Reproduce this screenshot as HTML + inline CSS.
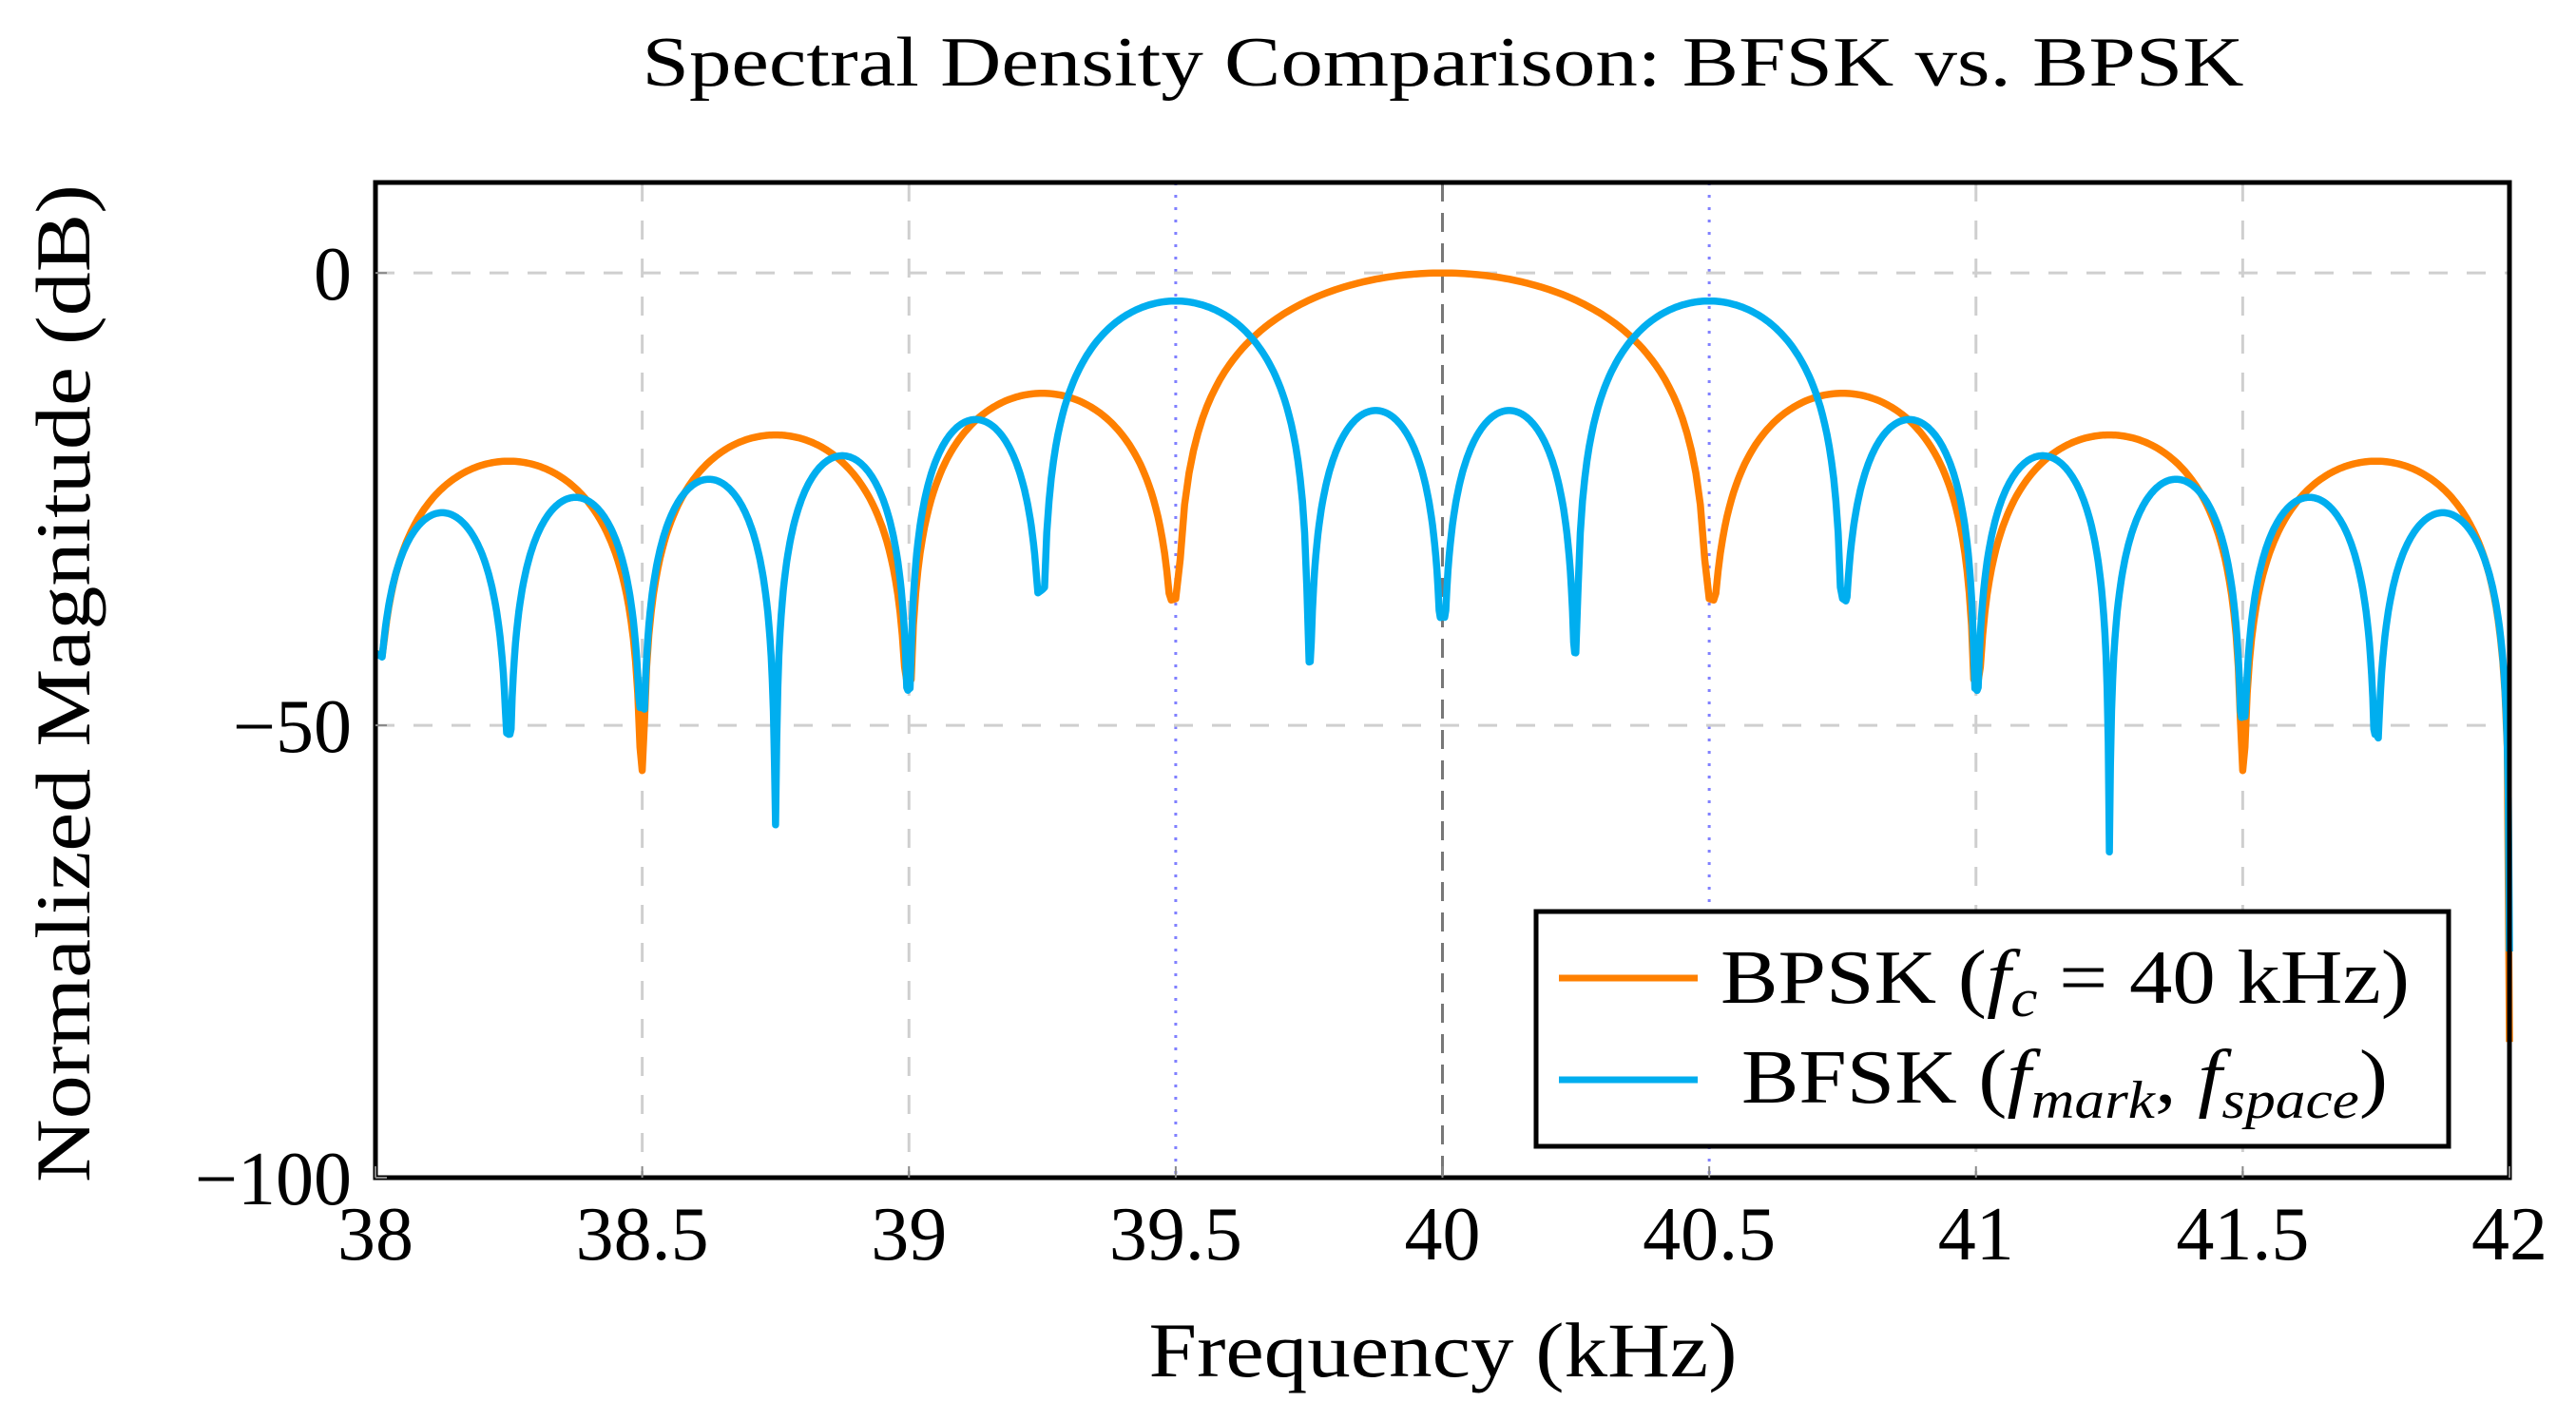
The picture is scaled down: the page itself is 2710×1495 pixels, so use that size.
<!DOCTYPE html>
<html><head><meta charset="utf-8"><style>
html,body{margin:0;padding:0;background:#fff;}
svg{display:block;font-family:"Liberation Serif",serif;}
</style></head><body>
<svg id="chart" width="2710" height="1495" viewBox="0 0 2710 1495" xmlns="http://www.w3.org/2000/svg">
<text x="1518" y="90" font-size="74" text-anchor="middle" textLength="1685" lengthAdjust="spacingAndGlyphs">Spectral Density Comparison: BFSK vs. BPSK</text>
<g id="grid"></g>
<g id="series"></g>
<rect x="395" y="192" width="2245" height="1047" fill="none" stroke="#000" stroke-width="5"/>
<g id="ticks"></g>
<text x="1518" y="1448" font-size="82" text-anchor="middle" textLength="619" lengthAdjust="spacingAndGlyphs">Frequency (kHz)</text>
<text transform="translate(94,719) rotate(-90)" font-size="82" text-anchor="middle" textLength="1050" lengthAdjust="spacingAndGlyphs">Normalized Magnitude (dB)</text>
<g>
<rect x="1616" y="959" width="960" height="247" fill="#fff" stroke="#000" stroke-width="5"/>
<line x1="1640" y1="1029" x2="1786" y2="1029" stroke="#ff8000" stroke-width="7"/>
<text x="1810" y="1055" font-size="80" textLength="725" lengthAdjust="spacingAndGlyphs">BPSK (<tspan font-style="italic">f</tspan><tspan font-style="italic" font-size="56" dy="14">c</tspan><tspan dy="-14"> = 40 kHz)</tspan></text>
<line x1="1640" y1="1136" x2="1786" y2="1136" stroke="#00aeef" stroke-width="7"/>
<text x="1832" y="1160" font-size="80" textLength="680" lengthAdjust="spacingAndGlyphs">BFSK (<tspan font-style="italic">f</tspan><tspan font-style="italic" font-size="56" dy="16">mark</tspan><tspan dy="-16">, </tspan><tspan font-style="italic">f</tspan><tspan font-style="italic" font-size="56" dy="16">space</tspan><tspan dy="-16">)</tspan></text>
</g>
</svg>
<script>
// ---- data ----
const xTicks = [38, 38.5, 39, 39.5, 40, 40.5, 41, 41.5, 42];
const xTickLabels = ["38", "38.5", "39", "39.5", "40", "40.5", "41", "41.5", "42"];
const yTicks = [0, -50, -100];
const yTickLabels = ["0", "\u221250", "\u2212100"];
const bpskNullFreq = [38, 38.5, 39, 39.5, 40.5, 41, 41.5, 42];
const bpskNullDb = [-42, -55, -45, -36, -36, -45, -55, -85];
const bpskPeakDb = [-20.8, -17.9, -13.3, 0, -13.3, -17.9, -20.8];
const bfskNullFreq = [38, 38.25, 38.5, 38.75, 39, 39.25, 39.75, 40, 40.25, 40.75, 41, 41.25, 41.5, 41.75, 42];
const bfskNullDb = [-42, -51, -48, -61, -46, -35, -43, -38, -42, -36, -46, -64, -49, -51, -75];
const bfskPeakDb = [-26.5, -24.8, -22.8, -20.2, -16.2, -3.1, -15.2, -15.2, -3.1, -16.2, -20.2, -22.8, -24.8, -26.5];

const X0 = 395, X1 = 2640, Y0 = 1239, Y1 = 192;
const xMin = 38, xMax = 42, yMin = -100, yMax = 10;
function xs(v){ return X0 + (v - xMin) / (xMax - xMin) * (X1 - X0); }
function ys(v){ return Y0 - (v - yMin) / (yMax - yMin) * (Y0 - Y1); }
const NS = "http://www.w3.org/2000/svg";
function mk(tag, attrs, parent){
  const e = document.createElementNS(NS, tag);
  for (const k in attrs) e.setAttribute(k, attrs[k]);
  parent.appendChild(e); return e;
}
const grid = document.getElementById('grid');
const ticks = document.getElementById('ticks');
xTicks.forEach((t, i) => {
  let stroke = "#cfcfcf", dash = "20,20", w = 3;
  if (t === 40) { stroke = "#777"; dash = "20,12"; w = 3; }
  if (t === 39.5 || t === 40.5) { stroke = "#8080ff"; dash = "3,10"; w = 3; }
  if (t !== 38 && t !== 42) {
    const gl = mk('line', {x1: xs(t), x2: xs(t), y1: Y1, y2: Y0, stroke, 'stroke-width': w, 'stroke-dasharray': dash}, grid);
    
    
  }
  const tk = mk('line', {x1: xs(t), x2: xs(t), y1: Y0, y2: Y0 - 12, stroke: "#888", 'stroke-width': 2}, ticks);
  
  
  const lb = mk('text', {x: xs(t), y: Y0 + 86, 'font-size': 80, 'text-anchor': 'middle'}, ticks);
  lb.textContent = xTickLabels[i];
  
  
});
yTicks.forEach((t, i) => {
  if (t !== -100) {
    const gl = mk('line', {x1: X0, x2: X1, y1: ys(t), y2: ys(t), stroke: "#cfcfcf", 'stroke-width': 3, 'stroke-dasharray': '20,20'}, grid);
    
    
  }
  const tk = mk('line', {x1: X0, x2: X0 + 12, y1: ys(t), y2: ys(t), stroke: "#888", 'stroke-width': 2}, ticks);
  
  
  const lb = mk('text', {x: 370, y: ys(t) + 28, 'font-size': 80, 'text-anchor': 'end'}, ticks);
  lb.textContent = yTickLabels[i];
  
  
});
// lobe renderer: each lobe spans two nulls with read peak; sine lobe shape, floored at null depth line
function lobePath(nf, nd, pk){
  const pts = [];
  for (let i = 0; i < pk.length; i++) {
    const a = nf[i], b = nf[i+1];
    const N = 120;
    for (let k = (i === 0 ? 0 : 1); k <= N; k++) {
      const t = k / N;
      const s = Math.sin(Math.PI * t);
      const shape = s > 1e-6 ? pk[i] + 20 * Math.log10(s) : -300;
      const floor = nd[i] + (nd[i+1] - nd[i]) * t;
      const v = Math.max(shape, floor);
      pts.push(xs(a + (b - a) * t).toFixed(1) + "," + ys(v).toFixed(1));
    }
  }
  return "M" + pts.join("L");
}
const series = document.getElementById('series');
const pO = mk('path', {d: lobePath(bpskNullFreq, bpskNullDb, bpskPeakDb), fill: 'none', stroke: '#ff8000', 'stroke-width': 7.5, 'stroke-linejoin': 'round'}, series);


const pB = mk('path', {d: lobePath(bfskNullFreq, bfskNullDb, bfskPeakDb), fill: 'none', stroke: '#00aeef', 'stroke-width': 7.5, 'stroke-linejoin': 'round'}, series);


</script>
</body></html>
